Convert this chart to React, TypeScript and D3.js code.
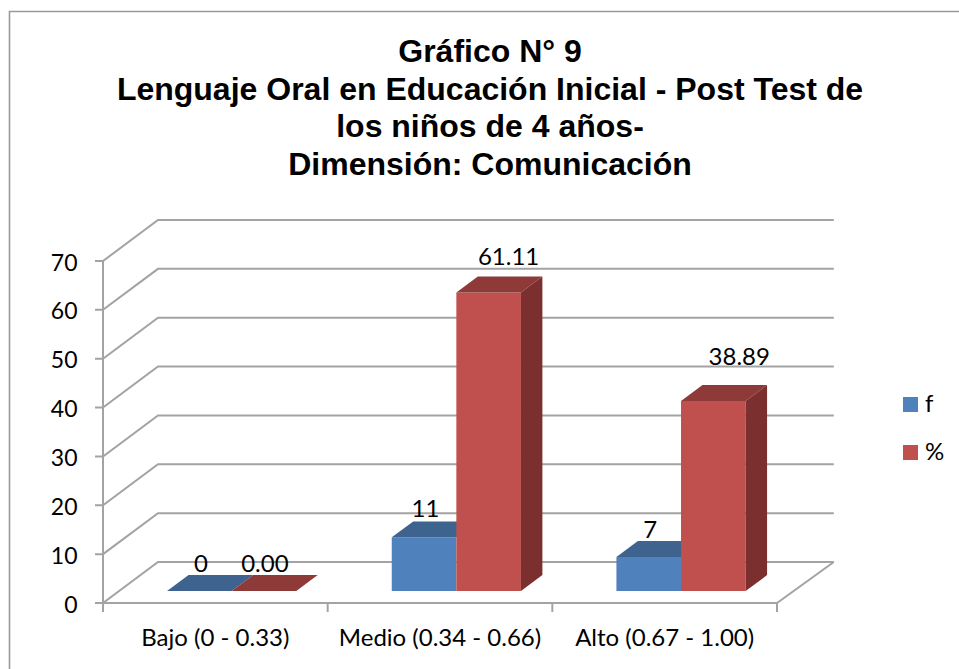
import React from "react";
import * as d3 from "d3";

const titleLines = [
  "Gráfico N° 9",
  "Lenguaje Oral en Educación Inicial - Post Test de",
  "los niños de 4 años-",
  "Dimensión: Comunicación",
];
const categories = ["Bajo (0 - 0.33)", "Medio (0.34 - 0.66)", "Alto (0.67 - 1.00)"];
const seriesNames = ["f", "%"];
const fValues = [0, 11, 7];
const pctValues = [0, 61.11, 38.89];
const pctLabels = ["0.00", "61.11", "38.89"];
const yTicks = [0, 10, 20, 30, 40, 50, 60, 70];

const GRID = "#a3a3a3";
const FONT = "Lato, Carlito, sans-serif";
const colors = [
  { front: "#4f81bd", top: "#3e638f" },
  { front: "#c0504d", top: "#8e3a38", side: "#7b2f2e" },
];

const x = d3.scaleLinear().domain([0, 3]).range([103, 777]);
const y = d3.scaleLinear().domain([0, 70]).range([603, 261]);
const DEPTH_X = 55;
const DEPTH_Y = 41;
const D0 = 0.29;
const D1 = 0.68;
const GAP = 0.75 / 3.5;
const BAR = 0.2875;
const WALL_END = 3.008;

const P = (cat: number, v: number, d: number): [number, number] => [x(cat) + d * DEPTH_X, y(v) - d * DEPTH_Y];
const poly = (pts: [number, number][]) => d3.line()(pts)! + "Z";

// label offsets from the bar's rear-top centre
const fLabelOffsets = [[-20, -3.5], [-20, -4], [-20, -3]];
const pctLabelOffsets = [[-20.5, -3.5], [-1.5, -12], [4.5, -20.5]];

function Bar({ cat, idx, v }: { cat: number; idx: number; v: number }) {
  const c = colors[idx];
  const a = cat + GAP + BAR * idx;
  const b = a + BAR;
  return (
    <g>
      {v > 0 && <path d={poly([P(b, 0, D0), P(a, 0, D0), P(a, v, D0), P(b, v, D0)])} fill={c.front} />}
      <path d={poly([P(a, v, D0), P(b, v, D0), P(b, v, D1), P(a, v, D1)])} fill={c.top} />
      {v > 0 && c.side && <path d={poly([P(b, 0, D0), P(b, v, D0), P(b, v, D1), P(b, 0, D1)])} fill={c.side} />}
    </g>
  );
}

export default function App() {
  return (
    <svg width={959} height={669} style={{ position: "absolute", left: 0, top: 0, background: "#fff" }}>
      <path d="M9.5,669V11.5H959" fill="none" stroke="#9a9a9a" strokeWidth={1.6} />
      <text fontFamily="'Liberation Sans', Arial, sans-serif" fontWeight="bold" fontSize={32} textAnchor="middle" fill="#000">
        {titleLines.map((t, i) => (
          <tspan key={i} x={490} y={62 + i * 37.5}>{t}</tspan>
        ))}
      </text>

      {yTicks.map((t) => (
        <path
          key={t}
          d={d3.line()([[95, y(t)], P(0, t, 0), P(0, t, 1), P(WALL_END, t, 1)])!}
          fill="none"
          stroke={GRID}
          strokeWidth={2}
        />
      ))}
      <path d={d3.line()([P(0, 70, 0), P(0, 0, 0), P(3, 0, 0), P(WALL_END, 0, 1), P(3, 0, 0)])!} fill="none" stroke={GRID} strokeWidth={2} />
      {[0, 1, 2, 3].map((c) => (
        <line key={c} x1={x(c)} x2={x(c)} y1={y(0)} y2={y(0) + 9} stroke={GRID} strokeWidth={2} />
      ))}

      {categories.map((_, c) => (
        <g key={c}>
          <Bar cat={c} idx={0} v={fValues[c]} />
          <Bar cat={c} idx={1} v={pctValues[c]} />
        </g>
      ))}

      <g fontFamily={FONT} fill="#000">
        {yTicks.map((t) => (
          <text key={t} x={77.5} y={y(t) + 9.5} fontSize={23} textAnchor="end">{t}</text>
        ))}
        {categories.map((n, c) => (
          <text key={n} x={x(c + 0.5)} y={646} fontSize={24} textAnchor="middle">{n}</text>
        ))}
        {categories.map((_, c) => {
          const fp = P(c + GAP + BAR / 2, fValues[c], D1);
          const pp = P(c + GAP + BAR * 1.5, pctValues[c], D1);
          return (
            <g key={c} fontSize={24} textAnchor="middle">
              <text x={fp[0] + fLabelOffsets[c][0]} y={fp[1] + fLabelOffsets[c][1]}>{fValues[c]}</text>
              <text x={pp[0] + pctLabelOffsets[c][0]} y={pp[1] + pctLabelOffsets[c][1]}>{pctLabels[c]}</text>
            </g>
          );
        })}
        {seriesNames.map((n, i) => (
          <g key={n}>
            <rect x={903} y={397 + i * 48} width={15} height={15} fill={colors[i].front} />
            <text x={925} y={412 + i * 48} fontSize={24}>{n}</text>
          </g>
        ))}
      </g>
    </svg>
  );
}
